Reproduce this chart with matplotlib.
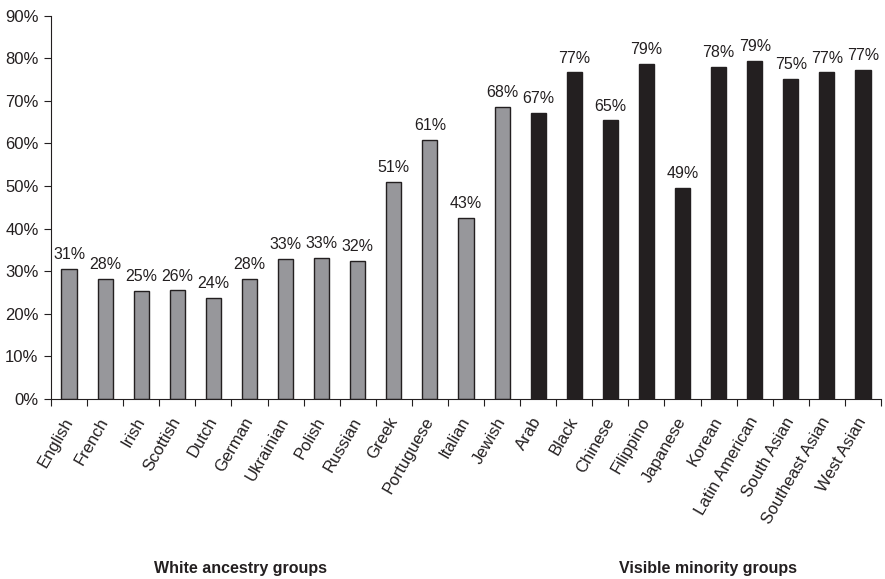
import numpy as np
import matplotlib.pyplot as plt

# Datos
grupos_blancos = ['English', 'French', 'Irish', 'Scottish', 'Dutch', 'German', 'Ukrainian',
                  'Polish', 'Russian', 'Greek', 'Portuguese', 'Italian', 'Jewish']
valores_blancos = [30.5, 28.2, 25.3, 25.5, 23.8, 28.2, 32.9, 33.1, 32.4, 51.0, 60.9, 42.6, 68.5]
etiquetas_blancos = [31, 28, 25, 26, 24, 28, 33, 33, 32, 51, 61, 43, 68]

grupos_minoria = ['Arab', 'Black', 'Chinese', 'Filippino', 'Japanese', 'Korean',
                  'Latin American', 'South Asian', 'Southeast Asian', 'West Asian']
valores_minoria = [67.2, 76.7, 65.4, 78.6, 49.5, 78.0, 79.3, 75.1, 76.7, 77.2]
etiquetas_minoria = [67, 77, 65, 79, 49, 78, 79, 75, 77, 77]

plt.rcParams['font.family'] = ['Liberation Sans', 'DejaVu Sans']

fig = plt.figure(figsize=(8.85, 5.79), dpi=100)
ax = fig.add_axes([51 / 885, 1 - 399 / 579, 830 / 885, 383.3 / 579])

n_b = len(grupos_blancos)
x_b = np.arange(n_b)
x_m = np.arange(len(grupos_minoria)) + n_b

ax.bar(x_b, valores_blancos, width=0.42, color='#97979b', edgecolor='#231f20', linewidth=1)
ax.bar(x_m, valores_minoria, width=0.42, color='#231f20', edgecolor='#231f20', linewidth=1)

# Etiquetas de porcentaje encima de cada barra
for x, v, e in zip(list(x_b) + list(x_m), valores_blancos + valores_minoria,
                   etiquetas_blancos + etiquetas_minoria):
    ax.text(x, v + 1.6, f'{e}%', ha='center', va='bottom', fontsize=11.5, color='#231f20')

total = n_b + len(grupos_minoria)
ax.set_xlim(-0.5, total - 0.5)
ax.set_ylim(0, 90)
ax.set_yticks(np.arange(0, 91, 10))
ax.set_yticklabels([f'{t}%' for t in range(0, 91, 10)], fontsize=12, color='#231f20')

# Marcas entre categorias y nombres en el centro
ax.set_xticks(np.arange(total + 1) - 0.5)
ax.set_xticklabels([])
ax.set_xticks(np.arange(total), minor=True)
ax.set_xticklabels(grupos_blancos + grupos_minoria, minor=True, rotation=60,
                   ha='right', va='center', rotation_mode='anchor', fontsize=12,
                   color='#231f20')
ax.tick_params(axis='x', which='major', length=5, direction='out', color='#231f20')
ax.tick_params(axis='x', which='minor', length=0, pad=14)
ax.tick_params(axis='y', length=5, pad=4, color='#231f20')

for lado in ['top', 'right']:
    ax.spines[lado].set_visible(False)
for lado in ['left', 'bottom']:
    ax.spines[lado].set_color('#231f20')

fig.text(241 / 885, 1 - 569 / 579, 'White ancestry groups', ha='center', va='center',
         fontsize=11.5, fontweight='bold', color='#231f20')
fig.text(708 / 885, 1 - 569 / 579, 'Visible minority groups', ha='center', va='center',
         fontsize=11.5, fontweight='bold', color='#231f20')

fig.savefig('out.png', dpi=100)
